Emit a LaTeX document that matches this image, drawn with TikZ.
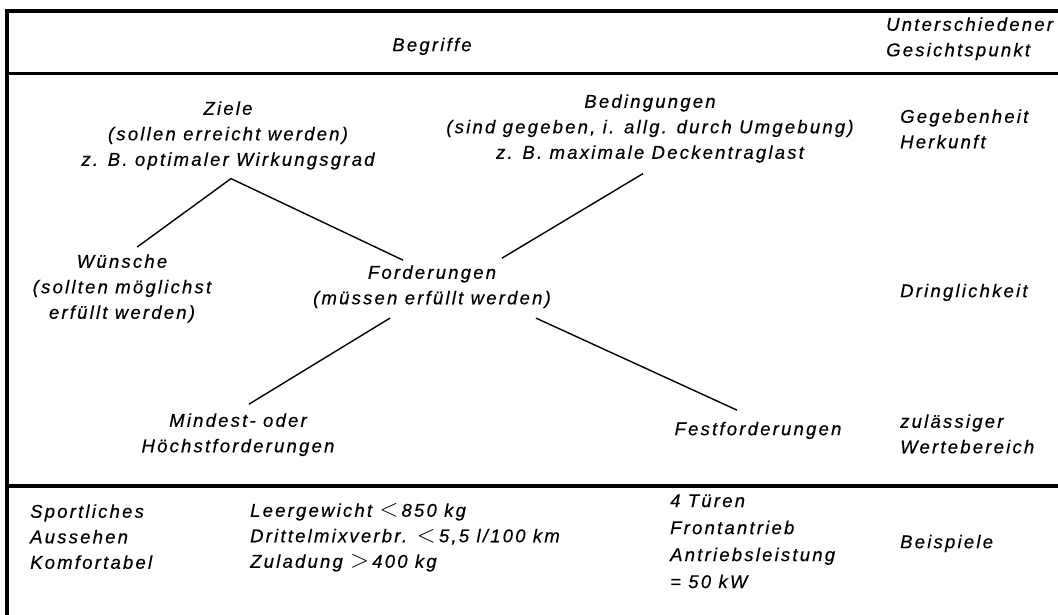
\documentclass[tikz,border=0pt]{standalone}
\usepackage{fontspec}
\setmainfont{Liberation Sans}[LetterSpace=12, FakeBold=0.4]
\usetikzlibrary{calc}
\newcommand{\bigrel}[1]{{\fontsize{23}{25.5}\selectfont$#1$}}
\tikzset{
  lbl/.style={font=\itshape\fontsize{18.5}{25.5}\selectfont, align=center, inner sep=0pt,
    anchor=north, yshift=17.85pt,
    execute at begin node=\strut, execute at end node=\strut},
  lblL/.style={lbl, align=left, anchor=north west},
  rulebar/.style={line width=3.3pt},
  conn/.style={line width=1.4pt}
}
\begin{document}
\begin{tikzpicture}[x=1pt,y=-1pt]
\useasboundingbox (0,0) rectangle (1058,615);
\fill[white] (0,0) rectangle (1058,615);
% frame
\draw[rulebar] (1058,11) -- (7,11) -- (7,615);
\draw[rulebar] (7,73.5) -- (1058,73.5);
\draw[rulebar] (7,486) -- (1058,486);
% header (positions = first baseline)
\node[lbl] (begriffe) at (432,51) {Begriffe};
\node[lblL] (gesicht) at (886,35) {Unterschiedener\\Gesichtspunkt};
% main
\node[lbl] (ziele) at (228,119) {Ziele\\(sollen erreicht werden)\\z. B. optimaler Wirkungsgrad};
\node[lbl] (bed) at (650,112) {Bedingungen\\(sind gegeben, i. allg. durch Umgebung)\\z. B. maximale Deckentraglast};
\node[lblL] (geg) at (900,127) {Gegebenheit\\Herkunft};
\node[lbl] (wue) at (122,272) {Wünsche\\(sollten möglichst\\erfüllt werden)};
\node[lbl] (ford) at (432,283) {Forderungen\\(müssen erfüllt werden)};
\node[lblL] (dring) at (900,297) {Dringlichkeit};
\node[lbl] (mind) at (238,431) {Mindest- oder\\Höchstforderungen};
\node[lbl] (fest) at (758,435) {Festforderungen};
\node[lblL] (zul) at (900,432) {zulässiger\\Wertebereich};
% bottom
\node[lblL] (sport) at (30,522) {Sportliches\\Aussehen\\Komfortabel};
\node[lblL] (leer) at (250,521) {Leergewicht \bigrel{<}\,850 kg\\Drittelmixverbr. \bigrel{<}\,5,5 l/100 km\\Zuladung \bigrel{>}\,400 kg};
\node[lblL, font=\itshape\fontsize{18.5}{27}\selectfont] (tueren) at (670,512) {4 Türen\\Frontantrieb\\Antriebsleistung\\= 50 kW};
\node[lblL] (beisp) at (900,548) {Beispiele};
% connectors
\coordinate (apex) at ($(ziele.south)+(3,5)$);
\draw[conn] ($(wue.north)+(15,-7)$) -- (apex) -- ($(ford.north)+(-29,-5)$);
\draw[conn] ($(bed.south)+(-7,7)$) -- ($(ford.north)+(70,-7)$);
\draw[conn] ($(ford.south)+(-42,6)$) -- ($(mind.north)+(11,-9)$);
\draw[conn] ($(ford.south)+(104,6)$) -- ($(fest.north)+(-21,-7)$);
\end{tikzpicture}
\end{document}
